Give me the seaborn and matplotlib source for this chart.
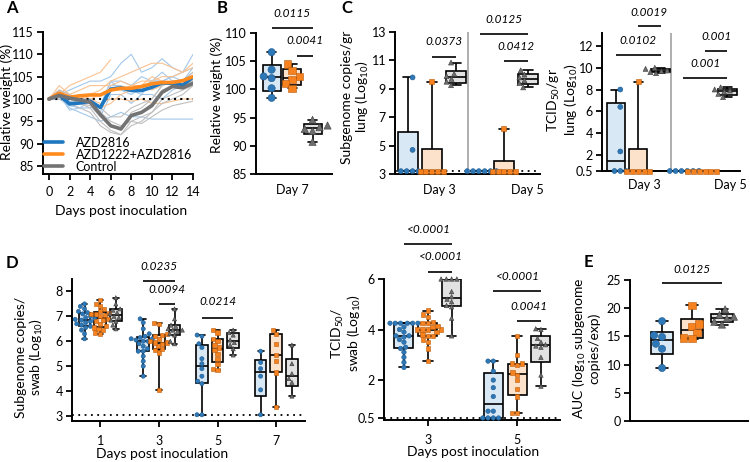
import numpy as np
import pandas as pd
import matplotlib
matplotlib.use("Agg")
import matplotlib.pyplot as plt
import matplotlib.cbook as cbook
import seaborn as sns

# ---------------------------------------------------------------- data
groups = ["AZD2816", "AZD1222+AZD2816", "Control"]

# Panel A: relative weight, group means (thick) and individual animals (thin)
days_a = list(range(15))
mean_a_blue = [100, 100.9, 98.9, 99.1, 99.5, 98.1, 102.2, 102.5, 101.9, 101.9, 102.6, 103.6, 103.5, 103.1, 104.9]
mean_a_orange = [100, 101.3, 100.4, 100.7, 100.9, 100.9, 102.0, 102.4, 102.4, 102.8, 103.4, 103.7, 103.7, 104.1, 105.0]
mean_a_gray = [100, 100.8, 100.2, 99.8, 99.3, 96.5, 94.0, 93.3, 96.3, 97.0, 98.5, 101.5, 102.8, 102.5, 103.5]

ind_a_blue = [
    [100, 101, 102, 103, 104, 104, 105, 108, 110, 106, 107, 109, 107, 106, 107],
    [100, 100.5, 98, 97, 96, 95, 96, 97, 96, 96, 95.5, 95.5, 95.5, 95.5, 95.5],
    [100, 101.5, 99, 99.5, 100, 97, 103, 103, 102, 101, 104, 104, 105, 104, 107],
    [100, 102, 99.5, 99, 99, 96, 101, 101, 99, 101, 101, 100, 102, 103, 104],
    [100, 100, 98.5, 98, 99.5, 98, 104, 102, 101, 102.5, 104, 106, 104, 104, 106],
    [100, 101, 97.5, 98, 98, 98.5, 104, 104, 103, 105, 104, 104, 105, 106, 110],
]
ind_a_orange = [
    [100, 101, 103, 104, 105, 106, 108.8],
    [100, 102, 101, 100, 101, 102, 104, 105, 106, 107, 108, 108, 107, 106, 108],
    [100, 100.5, 100, 101, 100, 99, 100, 100, 99.5, 100, 99, 99, 99.5, 100, 100],
    [100, 101.5, 99, 99.5, 99, 98, 99, 101, 102, 103, 105, 104, 103, 104, 105],
    [100, 103, 101, 102, 103, 103, 103, 104, 103, 104, 104, 105, 105, 106, 107],
    [100, 101, 100, 99, 100, 101, 102, 102, 103, 103, 102, 103, 104, 104, 104],
]
ind_a_gray = [
    [100, 101, 100, 99, 98, 95, 93, 92, 95, 96, 97, 100, 101, 102, 103],
    [100, 100, 99, 98, 97, 94, 92.5, 92, 94, 95, 97, 99, 100, 101, 103],
    [100, 101, 100.5, 100, 100, 97, 94, 93, 96, 97, 99, 102, 103, 103, 104],
    [100, 100.5, 100, 99.5, 99, 97, 95, 94, 95, 94.5, 96, 97.5, 98.5, 99, 99.5],
    [100, 102, 101, 100, 100, 98, 96, 96, 98, 99, 100, 103, 104, 104, 104],
    [100, 100, 100, 99, 98.5, 96, 94, 93, 97, 98, 100, 103, 104, 104, 106],
]

# Panel B: relative weight at day 7
b_days = ["Day 7"]
b_blue = [106.6, 103.5, 102.3, 102.0, 100.2, 98.5]
b_orange = [104.5, 103.4, 102.3, 101.8, 101.0, 100.2]
b_gray = [94.6, 93.6, 93.3, 93.0, 92.6, 90.7]

# Panel C: lung subgenomic copies and TCID50 (log10)
c_days = ["Day 3", "Day 5"]
c_sg_blue = [[9.8, 4.7, 3.2, 3.2, 3.2, 3.2], [3.2, 3.2, 3.2, 3.2, 3.2, 3.2]]
c_sg_orange = [[9.5, 3.2, 3.2, 3.2, 3.2, 3.2], [6.2, 3.2, 3.2, 3.2, 3.2, 3.2]]
c_sg_gray = [[10.85, 10.05, 9.9, 9.7, 9.5, 9.25], [10.3, 10.0, 9.8, 9.6, 9.4, 9.1]]
c_tc_blue = [[8.0, 6.4, 2.3, 0.5, 0.5, 0.5], [0.5, 0.5, 0.5, 0.5, 0.5, 0.5]]
c_tc_orange = [[8.7, 0.5, 0.5, 0.5, 0.5, 0.5], [0.5, 0.5, 0.5, 0.5, 0.5, 0.5]]
c_tc_gray = [[10.0, 9.9, 9.75, 9.7, 9.6, 9.5], [8.2, 8.0, 7.9, 7.8, 7.6, 7.3]]

# Panel D: swab subgenomic copies (days 1,3,5,7) and TCID50 (days 3,5)
d_sg_days = ["1", "3", "5", "7"]
d_sg_blue = [
    [6.1, 6.3, 6.45, 6.55, 6.6, 6.65, 6.7, 6.75, 6.8, 6.85, 6.88, 6.9, 6.95, 7.0, 7.1, 7.15, 7.2, 7.3, 7.4, 7.5],
    [4.6, 5.0, 5.2, 5.4, 5.6, 5.6, 5.7, 5.8, 5.9, 6.0, 6.0, 6.05, 6.1, 6.1, 6.15, 6.2, 6.3, 6.5, 6.75, 6.9],
    [3.05, 3.05, 4.3, 4.4, 4.6, 4.9, 5.1, 5.3, 5.75, 5.9, 6.2, 6.25],
    [3.05, 4.05, 4.6, 4.9, 5.15, 5.6],
]
d_sg_orange = [
    [6.3, 6.35, 6.45, 6.5, 6.55, 6.6, 6.7, 6.8, 6.85, 6.9, 7.0, 7.05, 7.1, 7.1, 7.15, 7.2, 7.3, 7.4, 7.5, 7.65],
    [4.05, 5.55, 5.65, 5.7, 5.8, 5.9, 5.95, 5.95, 6.0, 6.1, 6.2, 6.25, 6.3, 6.7, 6.75],
    [4.85, 4.9, 5.1, 5.3, 5.5, 5.65, 5.75, 5.85, 6.0, 6.1, 6.35, 6.45],
    [3.35, 4.75, 5.2, 5.45, 5.9, 6.3, 6.45],
]
d_sg_gray = [
    [6.5, 6.65, 6.8, 6.85, 6.95, 7.0, 7.1, 7.15, 7.25, 7.3, 7.5, 7.75],
    [5.9, 6.0, 6.25, 6.3, 6.4, 6.45, 6.45, 6.5, 6.6, 6.65, 6.9, 7.3],
    [5.45, 5.7, 5.85, 5.95, 6.05, 6.25, 6.35, 6.45],
    [3.8, 4.35, 4.5, 4.7, 5.1, 5.85],
]
d_tc_days = ["3", "5"]
d_tc_blue = [
    [2.5, 2.7, 2.9, 3.1, 3.25, 3.3, 3.5, 3.6, 3.7, 3.75, 3.75, 3.9, 4.0, 4.1, 4.25, 4.25, 4.25, 4.25, 4.25, 4.25],
    [0.5, 0.5, 0.5, 0.5, 0.77, 0.77, 1.35, 1.7, 2.0, 2.35, 2.75, 2.75],
]
d_tc_orange = [
    [2.75, 3.25, 3.5, 3.6, 3.75, 3.75, 3.8, 3.9, 4.0, 4.0, 4.0, 4.0, 4.1, 4.15, 4.25, 4.25, 4.3, 4.5, 4.6, 4.75],
    [0.7, 0.7, 1.35, 1.65, 2.0, 2.2, 2.3, 2.6, 2.65, 2.65, 3.0, 3.75],
]
d_tc_gray = [
    [3.75, 4.45, 4.9, 4.95, 5.1, 5.2, 5.3, 5.5, 6.0, 6.0, 6.0, 6.0],
    [1.76, 2.2, 2.9, 3.3, 3.35, 3.4, 3.5, 3.65, 4.0, 4.03],
]

# Panel E: AUC
e_blue = [17.7, 15.2, 14.9, 13.7, 12.8, 9.4]
e_orange = [20.5, 17.2, 16.7, 15.7, 14.7, 14.6]
e_gray = [19.8, 18.8, 18.5, 18.2, 17.6, 17.1]

# ---------------------------------------------------------------- style
pt_pal = {"AZD2816": "#2f78b7", "AZD1222+AZD2816": "#f5821f", "Control": "#6e6e6e"}
edge_pal = {"AZD2816": "#1d5a8e", "AZD1222+AZD2816": "#b95a0c", "Control": "#3a3a3a"}
fill_pal = {"AZD2816": "#d9e8f5", "AZD1222+AZD2816": "#fde2cb", "Control": "#e2e2e2"}
line_pal = {"AZD2816": "#1f77bf", "AZD1222+AZD2816": "#ff8a1e", "Control": "#737373"}
thin_pal = {"AZD2816": "#a3c8ea", "AZD1222+AZD2816": "#fbc291", "Control": "#bfbfbf"}
markers = {"AZD2816": "o", "AZD1222+AZD2816": "s", "Control": "^"}

TICK_FS = 9
LAB_FS = 10
P_FS = 8.5

sns.set_style("ticks")
plt.rcParams.update({
    "font.family": ["Lato", "DejaVu Sans"],
    "mathtext.fontset": "custom",
    "mathtext.rm": "Lato",
    "mathtext.it": "Lato:italic",
    "mathtext.bf": "Lato:bold",
    "axes.linewidth": 1.4,
    "axes.edgecolor": "black",
    "axes.labelcolor": "black",
    "text.color": "black",
    "xtick.color": "black",
    "ytick.color": "black",
    "xtick.major.width": 1.3,
    "ytick.major.width": 1.3,
    "xtick.major.size": 4,
    "ytick.major.size": 4,
    "ytick.major.pad": 2.5,
    "xtick.labelsize": TICK_FS,
    "ytick.labelsize": TICK_FS,
})

# Prism-style quartiles (n+1 method), whiskers min..max
_orig_stats = cbook.boxplot_stats


def _prism_stats(X, *args, **kwargs):
    out = _orig_stats(X, *args, **kwargs)
    Xs = X if isinstance(X, (list, tuple)) else [X]
    for s, x in zip(out, Xs):
        x = np.asarray(x, float)
        if x.size == 0:
            continue
        q1, med, q3 = np.percentile(x, [25, 50, 75], method="weibull")
        s["q1"], s["med"], s["q3"] = q1, med, q3
        s["iqr"] = q3 - q1
        s["whislo"], s["whishi"] = x.min(), x.max()
        s["fliers"] = np.array([])
    return out


cbook.boxplot_stats = _prism_stats

W, H = 750, 462
fig = plt.figure(figsize=(W / 100, H / 100), dpi=100)


def px_axes(l, t, r, b):
    ax = fig.add_axes([l / W, 1 - b / H, (r - l) / W, (b - t) / H])
    sns.despine(ax=ax)
    return ax


def ftext(px, py, s, **kw):
    fig.text(px / W, 1 - py / H, s, **kw)


def ylab(px, py, s):
    ftext(px, py, s, rotation=90, ha="center", va="center", fontsize=LAB_FS, linespacing=1.0)


def long_table(xs, blue, orange, gray):
    rows = []
    for g, series in zip(groups, (blue, orange, gray)):
        for x, vals in zip(xs, series):
            for v in vals:
                rows.append((x, g, v))
    return pd.DataFrame(rows, columns=["x", "group", "value"])


def box_swarm(ax, df, order, width, gap, msize, dodge=True):
    sns.boxplot(data=df, x="x", y="value", hue="group", order=order, hue_order=groups,
                palette=fill_pal, saturation=1, width=width, gap=gap, whis=(0, 100),
                linecolor="black", linewidth=1.2, fliersize=0, dodge=dodge,
                legend=False, ax=ax)
    for g in groups:
        sub = df[df["group"] == g]
        sns.swarmplot(data=sub, x="x", y="value", hue="group", order=order,
                      hue_order=groups, palette=pt_pal, dodge=dodge, marker=markers[g],
                      size=msize, edgecolor=edge_pal[g], linewidth=0.4, legend=False,
                      ax=ax, zorder=4, clip_on=False, warn_thresh=1.0)
    # hide empty scatter collections (they would otherwise be drawn at the origin)
    for coll in ax.collections:
        if len(coll.get_offsets()) == 0:
            coll.set_visible(False)
    ax.set_xlabel("")
    ax.set_ylabel("")


def sig(ax, x1, x2, y, ty, text):
    ax.plot([x1, x2], [y, y], color="black", lw=1.2, clip_on=False, solid_capstyle="butt")
    ax.text((x1 + x2) / 2, ty, text, ha="center", va="center", fontsize=P_FS,
            style="italic", clip_on=False)


# ---------------------------------------------------------------- Panel A
axA = px_axes(43, 32, 193, 174)
thin_rows = []
for g, lines in zip(groups, (ind_a_blue, ind_a_orange, ind_a_gray)):
    for i, ln in enumerate(lines):
        for d, v in zip(days_a, ln):
            thin_rows.append((f"{g}-{i}", g, d, v))
thin_df = pd.DataFrame(thin_rows, columns=["mouse", "group", "day", "weight"])
sns.lineplot(data=thin_df, x="day", y="weight", hue="group", units="mouse",
             estimator=None, hue_order=groups, palette=thin_pal, linewidth=0.8,
             legend=False, ax=axA)
axA.hlines(100, 0, 14, colors="black", linestyles=(0, (1, 2)), lw=1.5, zorder=3)
mean_handles = []
for g, m in zip(groups, (mean_a_blue, mean_a_orange, mean_a_gray)):
    n0 = len(axA.lines)
    sns.lineplot(x=days_a, y=m, color=line_pal[g], linewidth=2.6,
                 errorbar=None, ax=axA, zorder=4, legend=False)
    mean_handles.append(axA.lines[n0])
axA.legend(handles=mean_handles, labels=groups, loc="lower left", bbox_to_anchor=(0, 0),
           frameon=False, fontsize=9, handlelength=1.5, handletextpad=1.0,
           labelspacing=0.0, borderaxespad=0, borderpad=0.1)
axA.set_xlim(-0.58, 14)
axA.set_ylim(83.2, 115)
axA.set_xticks(range(0, 15, 2))
axA.set_yticks(range(85, 116, 5))
axA.tick_params(axis="x", pad=5)
axA.set_xlabel("")
axA.set_ylabel("")
ylab(7, 102, "Relative weight (%)")
ftext(121, 211, "Days post inoculation", ha="center", va="center", fontsize=LAB_FS)

# ---------------------------------------------------------------- Panel B
axB = px_axes(256, 33, 332, 174)
b_df = long_table(b_days, [b_blue], [b_orange], [b_gray])
box_swarm(axB, b_df, b_days, width=0.8, gap=0.12, msize=5.2)
off = 0.8 / 3
sig(axB, -off, off, 110.9, 113.4, "0.0115")
sig(axB, 0.07, off, 105.9, 108.6, "0.0041")
axB.set_xlim(-0.47, 0.52)
axB.set_ylim(85, 110)
axB.set_yticks(range(85, 111, 5))
axB.tick_params(axis="x", length=0, pad=7)
ylab(217, 95, "Relative weight (%)")

# ---------------------------------------------------------------- Panel C (left)
axC1 = px_axes(395, 32, 540, 174)
c1_df = long_table(c_days, c_sg_blue, c_sg_orange, c_sg_gray)
axC1.axhline(3.2, color="black", ls=(0, (1, 2.5)), lw=1.3, zorder=1)
box_swarm(axC1, c1_df, c_days, width=1.0, gap=0.18, msize=3.6)
axC1.axvline(0.5, color="0.6", lw=1.1, zorder=0)
o = 1 / 3
sig(axC1, 0, o, 11.24, 12.3, "0.0373")
sig(axC1, 1 - o, 1 + o, 12.86, 13.85, "0.0125")
sig(axC1, 1, 1 + o, 10.96, 12.0, "0.0412")
axC1.set_xlim(-0.51, 1.5)
axC1.set_ylim(3, 13)
axC1.set_yticks(range(3, 14, 2))
axC1.set_xticks([0.1, 1.33])
axC1.set_xticklabels(c_days)
axC1.tick_params(axis="x", length=0, pad=7)
ylab(356, 97, "Subgenome copies/gr\nlung (Log$_{10}$)")

# ---------------------------------------------------------------- Panel C (right)
axC2 = px_axes(602, 33, 740, 171)
c2_df = long_table(c_days, c_tc_blue, c_tc_orange, c_tc_gray)
axC2.axhline(0.5, color="black", ls=(0, (1, 2.5)), lw=1.3, zorder=1)
box_swarm(axC2, c2_df, c_days, width=1.0, gap=0.18, msize=3.6)
axC2.axvline(0.49, color="0.6", lw=1.1, zorder=0)
sig(axC2, -o, o, 11.17, 12.5, "0.0102")
sig(axC2, 0, o, 13.8, 15.1, "0.0019")
sig(axC2, 1 - o, 1 + o, 9.06, 10.4, "0.001")
sig(axC2, 1, 1 + o, 11.5, 12.9, "0.001")
axC2.set_xlim(-0.54, 1.52)
axC2.set_ylim(0.5, 13.2)
axC2.set_yticks([0.5, 2, 4, 6, 8, 10, 12])
axC2.set_yticklabels(["0.5", "2", "4", "6", "8", "10", "12"])
axC2.set_xticks([0.1, 1.37])
axC2.set_xticklabels(c_days)
axC2.tick_params(axis="x", length=0, pad=6)
ylab(563, 100, "TCID$_{50}$/gr\nlung (Log$_{10}$)")

# ---------------------------------------------------------------- Panel D (left)
axD1 = px_axes(72, 279, 305, 421)
d1_df = long_table(d_sg_days, d_sg_blue, d_sg_orange, d_sg_gray)
axD1.axhline(3.05, color="black", ls=(0, (1, 2.5)), lw=1.3, zorder=1)
box_swarm(axD1, d1_df, d_sg_days, width=0.8, gap=0.25, msize=3.0)
o8 = 0.8 / 3
sig(axD1, 1 - o8, 1 + o8, 8.4, 9.0, "0.0235")
sig(axD1, 1, 1 + o8, 7.48, 8.08, "0.0094")
sig(axD1, 2 - o8, 2 + o8, 6.95, 7.6, "0.0214")
axD1.set_xlim(-0.48, 3.49)
axD1.set_ylim(2.8, 8.5)
axD1.set_yticks(range(3, 9))
axD1.tick_params(axis="x", pad=6)
ylab(30, 357, "Subgenome copies/\nswab (Log$_{10}$)")
ftext(162, 454, "Days post inoculation", ha="center", va="center", fontsize=LAB_FS)

# ---------------------------------------------------------------- Panel D (right)
axD2 = px_axes(384, 279, 560, 420)
d2_df = long_table(d_tc_days, d_tc_blue, d_tc_orange, d_tc_gray)
axD2.axhline(0.5, color="black", ls=(0, (1, 2.5)), lw=1.3, zorder=1)
box_swarm(axD2, d2_df, d_tc_days, width=0.8, gap=0.2, msize=3.2)
sig(axD2, -o8, o8, 7.39, 7.95, "<0.0001")
sig(axD2, 0, o8, 6.28, 6.9, "<0.0001")
sig(axD2, 1 - o8, 1 + o8, 5.52, 6.1, "<0.0001")
sig(axD2, 1, 1 + o8, 4.33, 4.93, "0.0041")
axD2.set_xlim(-0.49, 1.48)
axD2.set_ylim(0.42, 6.0)
axD2.set_yticks([0.5, 2, 4, 6])
axD2.set_yticklabels(["0.5", "2", "4", "6"])
axD2.tick_params(axis="x", pad=6)
ylab(346, 333, "TCID$_{50}$/\nswab (Log$_{10}$)")
ftext(473, 452, "Days post inoculation", ha="center", va="center", fontsize=LAB_FS)

# ---------------------------------------------------------------- Panel E
axE = px_axes(630, 280, 748, 421)
e_rows = [(g, g, v) for g, vals in zip(groups, (e_blue, e_orange, e_gray)) for v in vals]
e_df = pd.DataFrame(e_rows, columns=["x", "group", "value"])
box_swarm(axE, e_df, groups, width=0.75, gap=0, msize=5.2, dodge=False)
sig(axE, 0, 2, 24.5, 26.9, "0.0125")
axE.set_xlim(-1.07, 2.87)
axE.set_ylim(0, 25)
axE.set_yticks(range(0, 26, 5))
axE.set_xticks([])
ylab(586, 348, "AUC (log$_{10}$ subgenome\ncopies/exp)")

# ---------------------------------------------------------------- panel letters
for letter, px, py in [("A", 12, 8), ("B", 222, 8), ("C", 347, 8), ("D", 12, 263), ("E", 588, 262)]:
    ftext(px, py, letter, ha="center", va="center", fontsize=12, fontweight="bold")

fig.savefig("out.png", dpi=100)
